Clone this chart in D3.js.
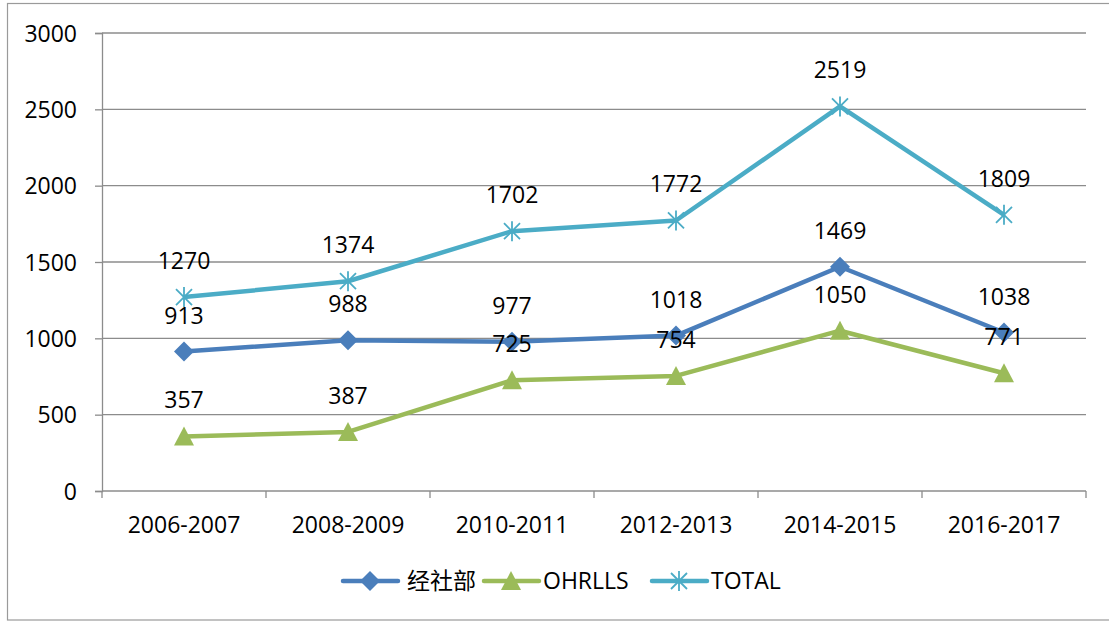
<!DOCTYPE html>
<html>
<head>
<meta charset="utf-8">
<script src="https://cdn.jsdelivr.net/npm/d3@7"></script>
<style>
  body { margin: 0; background: #fff; }
  text { font-family: "Open Sans", "Noto Sans", sans-serif; fill: #000; }
</style>
</head>
<body>
<svg id="chart"></svg>
<script>
// data
const categories = ["2006-2007", "2008-2009", "2010-2011", "2012-2013", "2014-2015", "2016-2017"];
const desaValues = [913, 988, 977, 1018, 1469, 1038];
const ohrllsValues = [357, 387, 725, 754, 1050, 771];
const totalValues = [1270, 1374, 1702, 1772, 2519, 1809];
const yTicks = [0, 500, 1000, 1500, 2000, 2500, 3000];

const series = [
    {name: "经社部", values: desaValues, color: "#4A7EBB", marker: "diamond"},
    {name: "OHRLLS", values: ohrllsValues, color: "#9BBB59", marker: "triangle"},
    {name: "TOTAL", values: totalValues, color: "#4BACC6", marker: "asterisk"}
];

const W = 1109, H = 622;
const margin = {top: 33, right: 23, bottom: 131, left: 102};
const width = W - margin.left - margin.right;
const height = H - margin.top - margin.bottom;
const fontSize = "23px";

const svg = d3.select("#chart").attr("width", W).attr("height", H);

// chart area border
svg.append("rect")
    .attr("x", 7.5).attr("y", 3.5)
    .attr("width", W + 10).attr("height", 616.5)
    .attr("fill", "none")
    .attr("stroke", "#9a9a9a")
    .attr("stroke-width", 1.2);

const chart = svg.append("g")
    .attr("transform", `translate(${margin.left},${margin.top})`);

const xScale = d3.scaleBand().domain(categories).range([0, width]);
const yScale = d3.scaleLinear().domain([0, 3000]).range([height, 0]);

// gridlines
chart.append("g")
    .selectAll("line")
    .data(yTicks.filter(d => d > 0))
    .join("line")
    .attr("x1", 0).attr("x2", width)
    .attr("y1", d => yScale(d)).attr("y2", d => yScale(d))
    .attr("stroke", "#8c8c8c")
    .attr("stroke-width", 1.3);

// y axis
const yAxis = d3.axisLeft(yScale).tickValues(yTicks).tickFormat(d3.format("d"))
    .tickSize(7).tickPadding(18);
const yAxisG = chart.append("g").call(yAxis);
yAxisG.select(".domain").attr("stroke", "#8c8c8c").attr("stroke-width", 1.3);
yAxisG.selectAll(".tick line").attr("stroke", "#8c8c8c").attr("stroke-width", 1.3);
yAxisG.selectAll(".tick text")
    .style("font-size", fontSize)
    .attr("fill", "#000")
    .attr("dy", "0.36em");

// x axis: ticks on category boundaries
const xAxisG = chart.append("g").attr("transform", `translate(0,${height})`);
xAxisG.append("line")
    .attr("x1", 0).attr("x2", width)
    .attr("stroke", "#8c8c8c").attr("stroke-width", 1.3);
xAxisG.selectAll(".xtick")
    .data(d3.range(categories.length + 1))
    .join("line")
    .attr("class", "xtick")
    .attr("x1", i => i * xScale.step()).attr("x2", i => i * xScale.step())
    .attr("y1", 0).attr("y2", 7)
    .attr("stroke", "#8c8c8c").attr("stroke-width", 1.3);
xAxisG.selectAll(".xlabel")
    .data(categories)
    .join("text")
    .attr("class", "xlabel")
    .attr("x", d => xScale(d) + xScale.bandwidth() / 2)
    .attr("y", 42)
    .attr("text-anchor", "middle")
    .style("font-size", fontSize)
    .text(d => d);

const cx = i => xScale(categories[i]) + xScale.bandwidth() / 2;

function drawMarker(g, type, color) {
    if (type === "diamond") {
        g.append("path").attr("d", "M0,-10L10,0L0,10L-10,0Z").attr("fill", color);
    } else if (type === "triangle") {
        g.append("path").attr("d", "M0,-10L10,9L-10,9Z").attr("fill", color);
    } else {
        g.append("path")
            .attr("d", "M-8,-8L8,8M-8,8L8,-8M0,-10L0,10")
            .attr("stroke", color).attr("stroke-width", 1.8).attr("fill", "none");
    }
}

const line = d3.line().x((d, i) => cx(i)).y(d => yScale(d));

series.forEach(s => {
    chart.append("path")
        .datum(s.values)
        .attr("d", line)
        .attr("fill", "none")
        .attr("stroke", s.color)
        .attr("stroke-width", 4.5)
        .attr("stroke-linejoin", "round");
});

series.forEach(s => {
    s.values.forEach((v, i) => {
        const g = chart.append("g").attr("transform", `translate(${cx(i)},${yScale(v)})`);
        drawMarker(g, s.marker, s.color);
    });
});

// data labels
series.forEach(s => {
    chart.append("g")
        .selectAll("text")
        .data(s.values)
        .join("text")
        .attr("x", (d, i) => cx(i))
        .attr("y", d => yScale(d) - 28)
        .attr("text-anchor", "middle")
        .style("font-size", fontSize)
        .text(d => d);
});

// legend
const legendX = [343, 484, 652];
const legend = svg.append("g").attr("transform", "translate(0,581)");
series.forEach((s, i) => {
    const lg = legend.append("g").attr("transform", `translate(${legendX[i]},0)`);
    lg.append("line")
        .attr("x1", 0).attr("x2", 55)
        .attr("stroke", s.color).attr("stroke-width", 4.5)
        .attr("stroke-linecap", "round");
    drawMarker(lg.append("g").attr("transform", "translate(27,0)"), s.marker, s.color);
    lg.append("text")
        .attr("x", i === 0 ? 64 : 59)
        .attr("y", 0)
        .attr("dy", "0.36em")
        .style("font-size", fontSize)
        .style("font-family", i === 0 ? "'Noto Sans CJK SC', sans-serif" : null)
        .attr("fill", i === 0 ? "#333" : "#000")
        .text(s.name);
});
</script>
</body>
</html>
